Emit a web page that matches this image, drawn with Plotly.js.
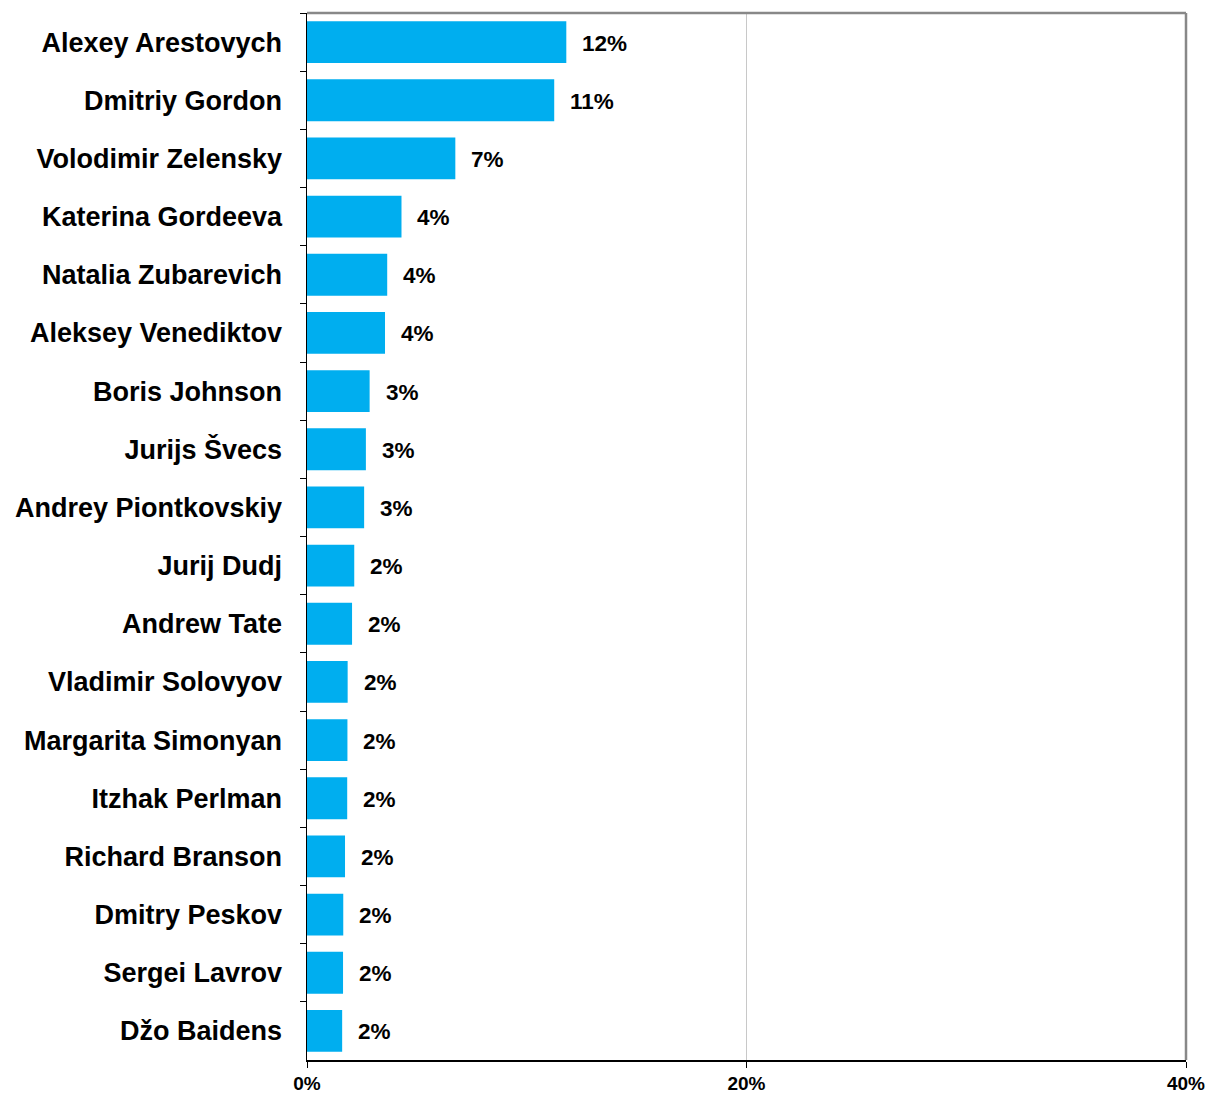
<!DOCTYPE html>
<html>
<head>
<meta charset="utf-8">
<script src="https://cdn.plot.ly/plotly-3.0.1.min.js"></script>
<style>html,body{margin:0;padding:0;background:#fff;}#chart{width:1210px;height:1095px;}</style>
</head>
<body>
<div id="chart"></div>
<script>
const names = ["Alexey Arestovych","Dmitriy Gordon","Volodimir Zelensky","Katerina Gordeeva","Natalia Zubarevich","Aleksey Venediktov","Boris Johnson","Jurijs Švecs","Andrey Piontkovskiy","Jurij Dudj","Andrew Tate","Vladimir Solovyov","Margarita Simonyan","Itzhak Perlman","Richard Branson","Dmitry Peskov","Sergei Lavrov","Džo Baidens"];
const shares = [11.8,11.25,6.75,4.3,3.65,3.55,2.85,2.68,2.6,2.15,2.05,1.85,1.84,1.83,1.73,1.65,1.64,1.6];
const tickVals = [0,20,40];
const tickText = ["0%","20%","40%"];

const labels = shares.map(v => Math.round(v) + "%");

const trace = {
  type: "bar",
  orientation: "h",
  y: names,
  x: shares,
  marker: {color: "#00AEEF", line: {width: 0}},
  hoverinfo: "none"
};

const annotations = names.map((n, i) => ({
  x: shares[i], y: n, xref: "x", yref: "y",
  text: "<b>" + labels[i] + "</b>",
  showarrow: false, xanchor: "left", yanchor: "middle",
  xshift: 14, yshift: -1,
  font: {family: "Liberation Sans, Arial, sans-serif", size: 22.5, color: "#000"}
}));

const layout = {
  width: 1210, height: 1095,
  margin: {l: 307, r: 24, t: 13, b: 35},
  paper_bgcolor: "#fff", plot_bgcolor: "#fff",
  bargap: 0.28,
  showlegend: false,
  font: {family: "Liberation Sans, Arial, sans-serif", color: "#000"},
  xaxis: {
    range: [0, 40], tickvals: tickVals, ticktext: tickText,
    showgrid: true, gridcolor: "#c8c8c8", gridwidth: 1,
    zeroline: false,
    showline: true, linecolor: "#000", linewidth: 1.5,
    ticks: "outside", ticklen: 6, tickcolor: "#000",
    tickfont: {size: 19, weight: "bold"},
    ticklabelstandoff: 0,
    fixedrange: true
  },
  yaxis: {
    type: "category", autorange: "reversed",
    tickson: "boundaries",
    ticks: "outside", ticklen: 6, tickcolor: "#000",
    showline: true, linecolor: "#000", linewidth: 1.5,
    showgrid: false, zeroline: false,
    tickfont: {size: 27, weight: "bold"},
    ticklabelstandoff: 18,
    fixedrange: true
  },
  shapes: [
    {type: "line", xref: "paper", yref: "paper", x0: 0, x1: 1, y0: 1, y1: 1, line: {color: "#888", width: 2.5}},
    {type: "line", xref: "paper", yref: "paper", x0: 1, x1: 1, y0: 0, y1: 1, line: {color: "#888", width: 2.5}}
  ],
  annotations: annotations
};

Plotly.newPlot("chart", [trace], layout, {displayModeBar: false, staticPlot: true});
</script>
</body>
</html>
